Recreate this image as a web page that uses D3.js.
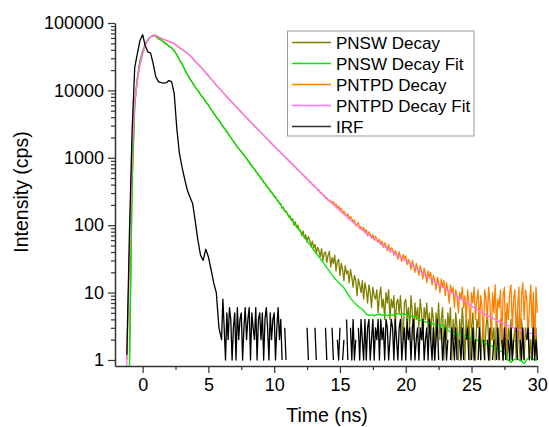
<!DOCTYPE html>
<html><head><meta charset="utf-8">
<script src="https://cdn.jsdelivr.net/npm/d3@7"></script>
<style>body{margin:0;background:#fff} svg{display:block}</style>
</head><body><svg id="c" width="549" height="427"></svg>
<script>
// Time axis for the fitted curves (ns), every 0.2 ns
const fitTime = [
 -1.6,-1.4,-1.2,-1.0,-0.8,-0.6,-0.4,-0.2,
 0,0.2,0.4,0.6,0.8,1,1.2,1.4,1.6,1.8,
 2,2.2,2.4,2.6,2.8,3,3.2,3.4,3.6,3.8,
 4,4.2,4.4,4.6,4.8,5,5.2,5.4,5.6,5.8,
 6,6.2,6.4,6.6,6.8,7,7.2,7.4,7.6,7.8,
 8,8.2,8.4,8.6,8.8,9,9.2,9.4,9.6,9.8,
 10,10.2,10.4,10.6,10.8,11,11.2,11.4,11.6,11.8,
 12,12.2,12.4,12.6,12.8,13,13.2,13.4,13.6,13.8,
 14,14.2,14.4,14.6,14.8,15,15.2,15.4,15.6,15.8,
 16,16.2,16.4,16.6,16.8,17,17.2,17.4,17.6,17.8,
 18,18.2,18.4,18.6,18.8,19,19.2,19.4,19.6,19.8,
 20,20.2,20.4,20.6,20.8,21,21.2,21.4,21.6,21.8,
 22,22.2,22.4,22.6,22.8,23,23.2,23.4,23.6,23.8,
 24,24.2,24.4,24.6,24.8,25,25.2,25.4,25.6,25.8,
 26,26.2,26.4,26.6,26.8,27,27.2,27.4,27.6,27.8,
 28,28.2,28.4,28.6,28.8,29,29.2,29.4,29.6,29.8,
 30];

// Time axis for the measured curves (ns): 0.2 ns up to 5.8, then 0.1 ns
const decayTime = [
 -1.6,-1.4,-1.2,-1.0,-0.8,-0.6,-0.4,-0.2,
 0,0.2,0.4,0.6,0.8,1,1.2,1.4,1.6,1.8,
 2,2.2,2.4,2.6,2.8,3,3.2,3.4,3.6,3.8,
 4,4.2,4.4,4.6,4.8,5,5.2,5.4,5.6,5.8,
 6,6.1,6.2,6.3,6.4,6.5,6.6,6.7,6.8,6.9,
 7,7.1,7.2,7.3,7.4,7.5,7.6,7.7,7.8,7.9,
 8,8.1,8.2,8.3,8.4,8.5,8.6,8.7,8.8,8.9,
 9,9.1,9.2,9.3,9.4,9.5,9.6,9.7,9.8,9.9,
 10,10.1,10.2,10.3,10.4,10.5,10.6,10.7,10.8,10.9,
 11,11.1,11.2,11.3,11.4,11.5,11.6,11.7,11.8,11.9,
 12,12.1,12.2,12.3,12.4,12.5,12.6,12.7,12.8,12.9,
 13,13.1,13.2,13.3,13.4,13.5,13.6,13.7,13.8,13.9,
 14,14.1,14.2,14.3,14.4,14.5,14.6,14.7,14.8,14.9,
 15,15.1,15.2,15.3,15.4,15.5,15.6,15.7,15.8,15.9,
 16,16.1,16.2,16.3,16.4,16.5,16.6,16.7,16.8,16.9,
 17,17.1,17.2,17.3,17.4,17.5,17.6,17.7,17.8,17.9,
 18,18.1,18.2,18.3,18.4,18.5,18.6,18.7,18.8,18.9,
 19,19.1,19.2,19.3,19.4,19.5,19.6,19.7,19.8,19.9,
 20,20.1,20.2,20.3,20.4,20.5,20.6,20.7,20.8,20.9,
 21,21.1,21.2,21.3,21.4,21.5,21.6,21.7,21.8,21.9,
 22,22.1,22.2,22.3,22.4,22.5,22.6,22.7,22.8,22.9,
 23,23.1,23.2,23.3,23.4,23.5,23.6,23.7,23.8,23.9,
 24,24.1,24.2,24.3,24.4,24.5,24.6,24.7,24.8,24.9,
 25,25.1,25.2,25.3,25.4,25.5,25.6,25.7,25.8,25.9,
 26,26.1,26.2,26.3,26.4,26.5,26.6,26.7,26.8,26.9,
 27,27.1,27.2,27.3,27.4,27.5,27.6,27.7,27.8,27.9,
 28,28.1,28.2,28.3,28.4,28.5,28.6,28.7,28.8,28.9,
 29,29.1,29.2,29.3,29.4,29.5,29.6,29.7,29.8,29.9,
 30];

// PNSW measured decay (on decayTime)
const pnswDecay = [
 0,1,0,1,420,6200,15500,27500,
 38500,48500,56500,62500,65000,63500,58500,56200,52000,49300,
 45200,42900,38700,33900,28200,24800,20200,17400,14700,12900,
 11100,10000,8650,7800,6700,6100,5200,4650,4000,3620,
 3140,2950,2740,2600,2410,2290,2120,2020,1860,1770,
 1640,1560,1440,1380,1290,1240,1150,1110,1020,980,
 905,870,800,770,705,690,625,600,555,530,
 490,480,430,420,380,372,350,318,310,290,
 265,262,236,232,208,210,178,185,160,162,
 150,132,138,118,125,100,112,92,100,86,
 84,70,82,64,72,56,68,60,48,58,
 46,52,38,47,42,34,45,30,38,40,
 28,36,41,24,33,27,36,21,29,31,
 18,27,22,15,25,19,21,14,22,17,
 12,18,15,9,16,13,10,15,8,14,
 11,7,13,10,6,12,9,8,11,5,
 9,12,6,8,4,10,7,11,4,8,
 6,9,3,7,8,5,9,4,2,7,
 8,4,6,3,9,5,2,7,4,6,
 3,8,5,2,6,4,7,3,5,2,
 6,4,1,5,3,7,2,4,6,1,
 4,2,5,3,6,1,4,2,5,3,
 1,4,2,6,3,1,5,2,4,1,
 3,5,2,1,4,3,6,1,2,4,
 1,3,5,2,1,4,2,3,1,5,
 2,1,4,3,1,2,5,1,3,2,
 4,1,2,3,1,5,2,1,4,2,
 1,3,2,4,1,2,1,5,2,3,
 1];

// PNTPD measured decay (on decayTime)
const pntpdDecay = [
 0,0,1,42,1250,7100,14200,24300,
 35400,47200,56300,62400,65800,65200,62300,59300,57200,55100,
 52900,51800,49200,46300,42800,40700,37800,35700,32800,30200,
 26900,24700,22400,20400,18200,16600,14700,13500,11900,10900,
 9820,9330,8890,8440,8060,7660,7320,6960,6650,6320,
 6040,5730,5480,5210,4990,4740,4540,4310,4130,3920,
 3760,3570,3420,3250,3120,2960,2850,2700,2600,2460,
 2370,2240,2160,2040,1970,1860,1800,1700,1640,1550,
 1500,1420,1370,1300,1260,1190,1150,1080,1050,990,
 960,905,880,825,805,755,735,690,670,630,
 615,575,565,525,515,480,472,440,432,398,
 396,364,362,332,333,302,305,280,280,254,
 256,232,238,226,215,224,198,206,182,192,
 170,178,150,162,146,136,148,122,134,125,
 112,120,98,104,110,88,96,84,92,77,
 86,70,80,74,64,72,60,68,63,56,
 62,52,58,47,55,50,42,52,40,46,
 44,36,42,38,31,40,34,29,37,32,
 35,26,31,28,22,30,25,20,27,23,
 18,25,21,16,23,19,14,21,17,20,
 13,18,15,11,17,14,10,16,12,15,
 9,14,11,7,13,10,12,6,11,9,
 5,10,8,12,6,9,4,11,7,3,
 10,7,12,4,8,11,3,9,6,2,
 11,8,4,12,7,2,10,5,13,3,
 8,6,11,2,9,12,1.5,7,4,10,
 13,3,8,11,2,6,12,1.5,9,14,
 4,11,8,2,6,13,3,10,1.2,12,
 5];

// Instrument response function (on decayTime)
const irf = [
 0,0,1.2,80,2500,22000,35000,55000,
 67000,46000,37000,36000,25000,16000,13500,13000,12800,13000,
 14000,13500,9000,2700,1150,720,480,330,260,210,
 115,60,36,30,44,34,22,14,10,3,
 2,8,3,1,5,2,6,4,1,3,
 5,1,6,2,4,5,1,3,6,2,
 4,6,1,5,3,2,6,1,4,5,
 2,5,1,4,6,3,1,5,2,4,
 5,1,3,6,2,4,1,0,3,1,
 0,0,2,0,1,0,0,3,0,0,
 1,0,0,2,0,3,1,0,2,0,
 0,3,1,0,0,2,0,1,0,3,
 1,0,2,0,3,1,0,0,2,1,
 3,0,1,2,0,4,1,0,3,1,
 4,1,2,0,3,1,4,2,1,4,
 1,3,4,1,2,4,1,3,2,4,
 1,4,2,3,1,4,3,1,2,4,
 3,1,4,2,1,3,4,1,2,3,
 1,4,2,3,1,3,4,1,2,3,
 1,3,2,4,1,2,3,1,4,2,
 1,3,1,2,4,1,0,3,1,2,
 3,1,2,0,1,3,2,1,3,1,
 0,2,1,3,1,0,2,3,1,0,
 1,3,1,2,0,1,3,1,0,2,
 1,0,2,1,3,0,1,2,0,1,
 3,1,0,2,1,3,1,0,2,1,
 3,1,2,0,3,1,0,2,1,3,
 1,0,2,3,1,0,1,3,1,2,
 1];

// Fits (on fitTime)
const pnswFit = [
 0,0,0.05,0.8,400,6000,15000,27000,
 38000,48000,56000,62000,65500,63000,59000,56000,52500,49000,
 45500,42500,39000,33500,28500,24500,20500,17200,14800,12800,
 11200,9900,8700,7700,6800,6000,5250,4600,4050,3560,
 3130,2750,2420,2130,1870,1650,1450,1290,1167,1033,
 914,809,716,634,561,497,440,389,344,305,
 270,239,211,187,166,147,130,115,102,90,
 80,70,62,55,49,43,38,34,30,26.5,
 23.5,20.8,18.4,16.3,14.8,13.5,12.5,11,9.5,8.3,
 7.4,6.8,6.2,5.8,5.4,4.8,4.6,4.7,4.5,4.7,
 4.8,4.6,4.7,4.5,4.8,4.6,4.8,4.9,4.7,4.9,
 4.7,4.6,4.5,4.4,4.3,4.0,3.8,3.7,3.6,3.5,
 3.4,3.4,3.3,3.3,3.3,3.0,2.8,2.6,2.5,2.35,
 2.4,2.3,2.3,2.2,2.2,2.1,2.0,2.0,1.9,1.87,
 1.8,1.7,1.65,1.6,1.5,1.45,1.35,1.3,1.2,1.0,
 0.92,1.0,1.06,1.0,0.95,0.89,1.0,1.12,1.05,1.0,
 1.0];

const pntpdFit = [
 0,0.05,0.9,40,1200,7000,14000,24000,
 35000,47000,56000,62000,65500,65000,62000,59500,57000,55000,
 53000,51500,49500,46000,43000,40500,38000,35500,33000,30000,
 27000,24500,22500,20300,18300,16500,14800,13400,12000,10800,
 9800,8870,8050,7310,6640,6030,5470,4980,4530,4120,
 3750,3410,3110,2840,2590,2360,2150,1960,1790,1630,
 1490,1360,1250,1140,1040,953,871,796,728,665,
 608,556,508,465,425,388,355,324,296,271,
 248,226,209,193,178,164,151,140,129,119,
 110,102,94.6,87.9,81.7,75.9,71.1,66.7,62.5,58.6,
 55.0,51.5,48.3,45.3,42.5,39.8,37.5,35.3,33.3,31.3,
 29.5,27.7,25.9,24.3,22.8,21.4,20.0,18.8,17.6,16.5,
 15.5,14.6,13.7,12.9,12.2,11.5,10.8,10.2,9.6,9.0,
 8.5,8.0,7.55,7.1,6.7,6.3,5.97,5.65,5.35,5.06,
 4.79,4.57,4.37,4.17,3.98,3.80,3.65,3.50,3.36,3.22,
 3.09,2.99,2.90,2.81,2.72,2.63,2.57,2.51,2.45,2.40,
 2.34];

const seriesNames = ["PNSW Decay","PNSW Decay Fit","PNTPD Decay","PNTPD Decay Fit","IRF"];
const seriesColors = ["#808000","#00e600","#ff8000","#ff70ff","#000000"];
const seriesData = [pnswDecay, pnswFit, pntpdDecay, pntpdFit, irf];
const seriesTime = [decayTime, fitTime, decayTime, fitTime, decayTime];

const xMajorTicks = [0,5,10,15,20,25,30];
const xMinorTicks = [2.5,7.5,12.5,17.5,22.5,27.5];
const yMajorTicks = [1,10,100,1000,10000,100000];

const FONT = "'Liberation Sans', Arial, sans-serif";
const svg = d3.select("#c");

const x = d3.scaleLinear().domain([-2.1, 30]).range([115, 537.3]);
const y = d3.scaleLog().domain([0.814, 100000]).range([366, 23]);

const yMinorTicks = [];
[1,10,100,1000,10000].forEach(d => { for (let k = 2; k <= 9; k++) yMinorTicks.push(d*k); });

svg.append("clipPath").attr("id","plotclip").append("rect")
  .attr("x",115).attr("y",22).attr("width",423).attr("height",344);

const line = d3.line()
  .defined(d => d[1] > 0)
  .x(d => x(d[0]))
  .y(d => y(d[1]));

const plot = svg.append("g").attr("clip-path","url(#plotclip)");
seriesData.forEach((vals, i) => {
  const pts = seriesTime[i].map((t, j) => [t, vals[j]]);
  plot.append("path")
    .attr("d", line(pts))
    .attr("fill","none")
    .attr("stroke", seriesColors[i])
    .attr("stroke-width", 1.3)
    .attr("stroke-linejoin","round");
});

// axes
const axisColor = "#333";
svg.append("g").attr("transform","translate(0,366)")
  .call(d3.axisBottom(x).tickValues(xMajorTicks).tickFormat(d3.format("d"))
    .tickSize(7).tickSizeOuter(0).tickPadding(5));
svg.append("g").attr("transform","translate(0,366)")
  .call(d3.axisBottom(x).tickValues(xMinorTicks).tickFormat("").tickSize(4).tickSizeOuter(0))
  .select(".domain").remove();
svg.append("g").attr("transform","translate(115,0)")
  .call(d3.axisLeft(y).tickValues(yMajorTicks).tickFormat(d3.format("d"))
    .tickSize(7).tickSizeOuter(0).tickPadding(4));
svg.append("g").attr("transform","translate(115,0)")
  .call(d3.axisLeft(y).tickValues(yMinorTicks).tickFormat("").tickSize(4).tickSizeOuter(0))
  .select(".domain").remove();

svg.selectAll(".domain").attr("stroke",axisColor).attr("stroke-width",1.5);
svg.selectAll(".tick line").attr("stroke",axisColor).attr("stroke-width",1.2);
svg.selectAll(".tick text").attr("font-family",FONT).attr("font-size",18).attr("fill","#000");

svg.append("text").attr("x",327).attr("y",422).attr("text-anchor","middle")
  .attr("font-family",FONT).attr("font-size",19.5).attr("fill","#000").text("Time (ns)");
svg.append("text").attr("transform","translate(28,192) rotate(-90)").attr("text-anchor","middle")
  .attr("font-family",FONT).attr("font-size",19.5).attr("fill","#000").text("Intensity (cps)");

// legend
const lg = svg.append("g");
lg.append("rect").attr("x",287.5).attr("y",31).attr("width",186.5).attr("height",105)
  .attr("fill","#fff").attr("stroke","#999").attr("stroke-width",1);
seriesNames.forEach((name, i) => {
  const cy = 42.5 + i*21;
  lg.append("line").attr("x1",292).attr("x2",331).attr("y1",cy).attr("y2",cy)
    .attr("stroke", i === 4 ? "#333" : seriesColors[i]).attr("stroke-width",1.6);
  lg.append("text").attr("x",336).attr("y",cy+6).attr("font-family",FONT).attr("font-size",17)
    .attr("fill","#000").text(name);
});
</script></body></html>
